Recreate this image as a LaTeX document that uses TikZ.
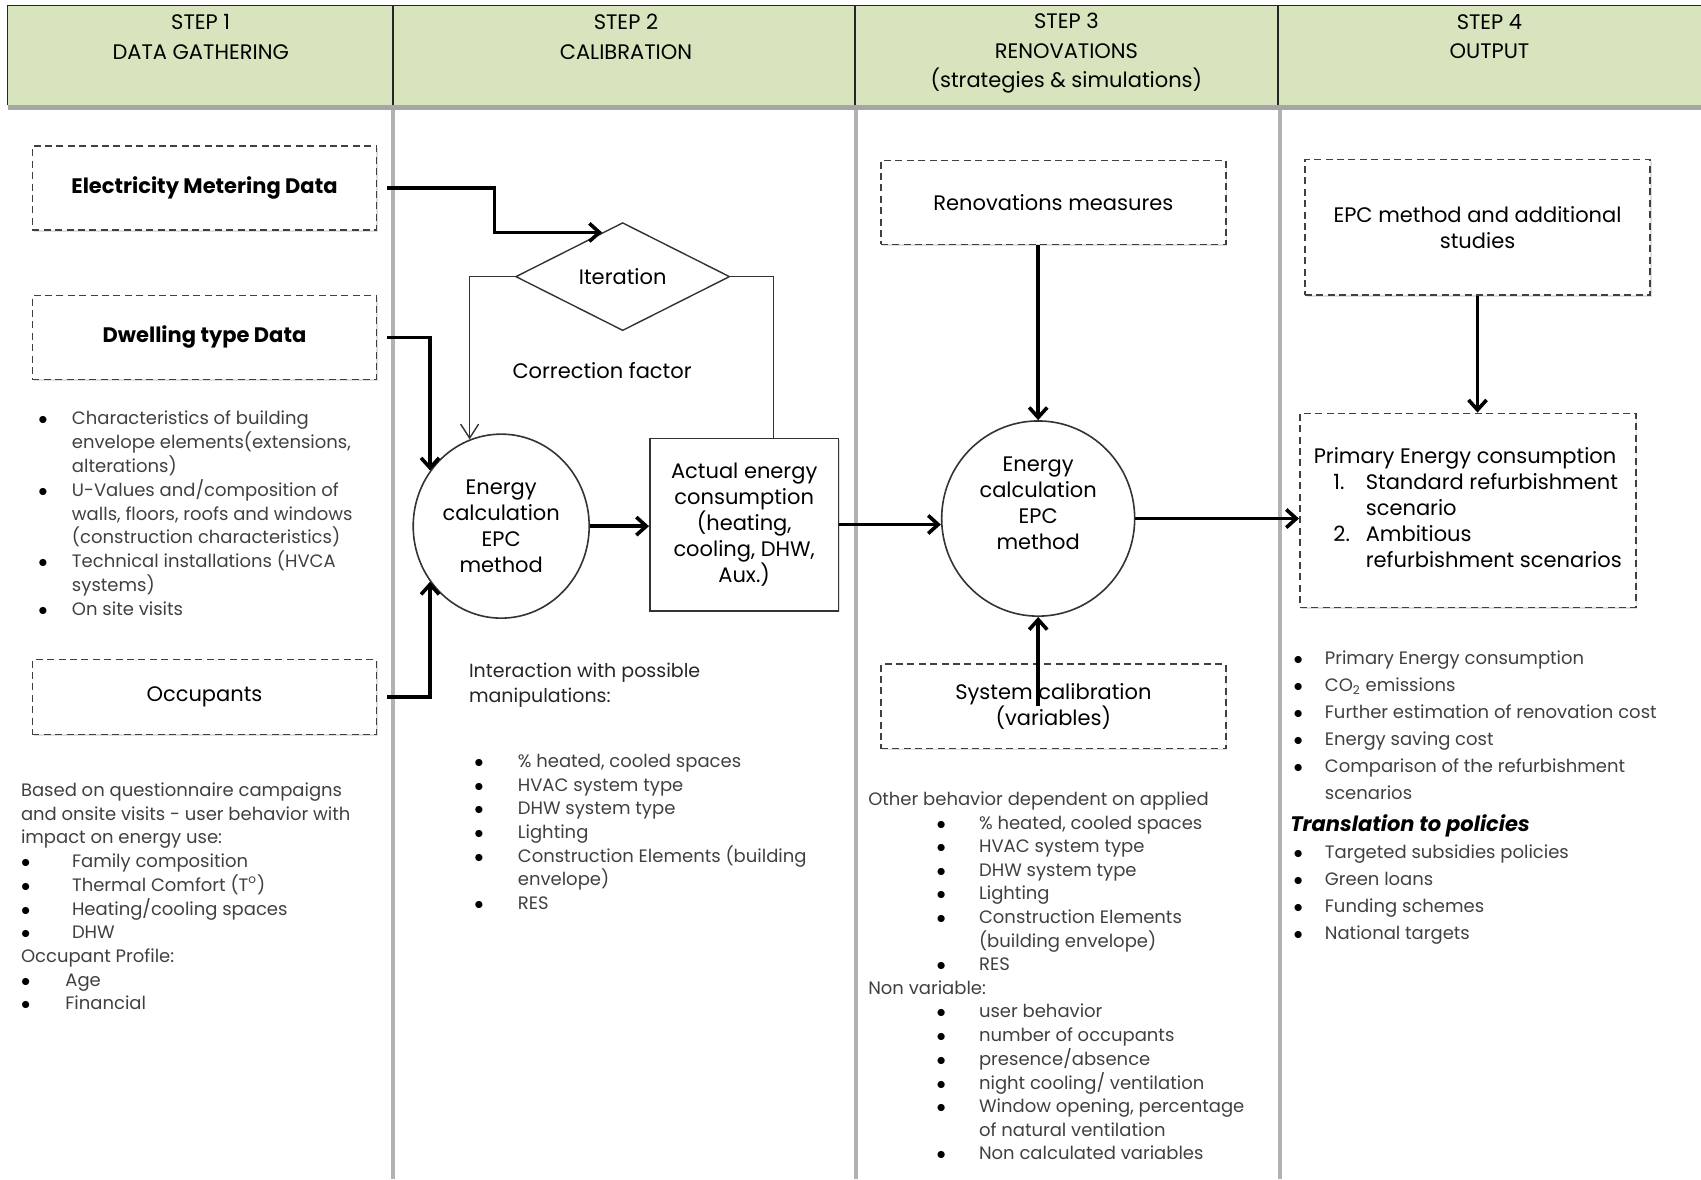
\documentclass[tikz,border=0pt]{standalone}
\usepackage{fontspec}
\setmainfont{Poppins}
\usetikzlibrary{shapes.geometric,arrows.meta,calc,shadows}
\definecolor{headgreen}{HTML}{D7E4BD}
\definecolor{txtgray}{HTML}{404040}
\newcommand{\bl}{\textcolor{black}{$\bullet$}}
\newcommand{\hd}[1]{\multicolumn{2}{@{}l@{}}{#1}}
\newcommand{\blist}[2]{\begin{tabular}{@{}p{#1}@{}l@{}}#2\end{tabular}}

\begin{document}
\begin{tikzpicture}[x=0.5424pt,y=-0.5424pt,
	dbox/.style={draw=black!75,dash pattern=on 3.5pt off 2.2pt,line width=0.8pt,fill=white,
		drop shadow={shadow xshift=0.8pt,shadow yshift=-0.8pt,opacity=0.25},
		align=center,inner sep=2pt,font=\fontsize{10.5}{13}\selectfont},
	solidbox/.style={draw=black!80,line width=0.8pt,fill=white,align=center,inner sep=0pt,
		font=\fontsize{10.5}{13}\selectfont},
	headtxt/.style={align=center,font=\fontsize{10.5}{14.6}\selectfont},
	flow/.style={line width=1.8pt,-{Straight Barb[length=5pt,width=9pt]}},
	loopline/.style={line width=0.7pt,black!80},
	body/.style={text=txtgray,inner sep=0pt,anchor=north west,font=\fontsize{9}{11.77}\selectfont}]

			\useasboundingbox (0,0) rectangle (1568,1087);

			\fill[headgreen] (7,5) rectangle (1568,97);
			\draw[gray!70,line width=2.5pt] (7,99) -- (1568,99);
			\draw[black!85,line width=0.8pt] (7,97) -- (7,5) -- (1568,5);
			\foreach \x in {362,788,1178}
				\draw[black!85,line width=0.8pt] (\x,5) -- (\x,97);
			\foreach \x in {362,789,1180}
				\draw[gray!60,line width=2pt] (\x,101) -- (\x,1087);

			\node[headtxt] (step1) at (185,34) {STEP 1\\DATA GATHERING};
			\node[headtxt] (step2) at (577,34) {STEP 2\\CALIBRATION};
			\node[headtxt] (step3) at (983,49) {STEP 3\\RENOVATIONS\\(strategies \& simulations)};
			\node[headtxt] (step4) at (1373,34) {STEP 4\\OUTPUT};

			% step 1
			\node[dbox,minimum width=172pt,minimum height=42pt,font=\fontsize{10.5}{13}\selectfont\bfseries] (elec) at (188.5,173.5) {Electricity Metering Data};
			\node[dbox,minimum width=172pt,minimum height=42pt,font=\fontsize{10.5}{13}\selectfont\bfseries] (dwell) at (188.5,311) {Dwelling type Data};
			\node[dbox,minimum width=172pt,minimum height=37.4pt] (occ) at (188.5,642.5) {Occupants};

			\node[body] (dwlist) at (35,376) {\blist{16.8pt}{
				\bl & Characteristics of building\\
				& envelope elements(extensions,\\
				& alterations)\\
				\bl & U-Values and/composition of\\
				& walls, floors, roofs and windows\\
				& (construction characteristics)\\
				\bl & Technical installations (HVCA\\
				& systems)\\
				\bl & On site visits}};

			\node[body] (occlist) at (19,719) {\blist{25.5pt}{
				\hd{Based on questionnaire campaigns}\\
				\hd{and onsite visits - user behavior with}\\
				\hd{impact on energy use:}\\
				\bl & Family composition\\
				\bl & Thermal Comfort (T\textsuperscript{o})\\
				\bl & Heating/cooling spaces\\
				\bl & DHW\\
				\hd{Occupant Profile:}\\
				\bl & \hspace{-3.3pt}Age\\
				\bl & \hspace{-3.3pt}Financial}};

			% step 2
			\node[draw=black!80,line width=0.7pt,diamond,aspect=2,minimum width=107pt,minimum height=54pt,inner sep=0pt,font=\fontsize{10.5}{13}\selectfont] (iter) at (574,255) {Iteration};
			\node[font=\fontsize{10.5}{13}\selectfont] (corr) at (555,342) {Correction factor};
			\node[solidbox,ellipse,minimum width=88pt,minimum height=92pt] (ecalc) at (462,485) {Energy\\calculation\\EPC\\method};
			\node[solidbox,minimum width=94.4pt,minimum height=86.2pt,
				drop shadow={shadow xshift=0.8pt,shadow yshift=-0.8pt,opacity=0.25}] (act) at (686,483.5) {Actual energy\\consumption\\(heating,\\cooling, DHW,\\Aux.)};

			\node[body,text=black!85,align=left,font=\fontsize{9.5}{12.5}\selectfont] (inter) at (432,611) {Interaction with possible\\manipulations:};
			\node[body] (manlist) at (437,692) {\blist{21.7pt}{
				\bl & \% heated, cooled spaces\\
				\bl & HVAC system type\\
				\bl & DHW system type\\
				\bl & Lighting\\
				\bl & Construction Elements (building\\
				& envelope)\\
				\bl & RES}};

			\draw[flow,shorten <=5pt] (elec.east) -- ++(108,0) |- (iter.115);
			\draw[flow,shorten <=5pt] (dwell.east) -| (ecalc.142);
			\draw[flow,shorten <=5pt] (occ.east) -| (ecalc.218);
			\draw[loopline,-{Straight Barb[length=7pt,width=9pt]}] (iter.west) -| (ecalc.110);
			\draw[loopline] (iter.east) -| ($(act.north)+(27,0)$);
			\draw[flow] (ecalc.east) -- (ecalc.east -| act.west);

			% step 3
			\node[dbox,minimum width=172.5pt,minimum height=42pt] (renov) at (971,186.5) {Renovations measures};
			\node[solidbox,ellipse,minimum width=96.5pt,minimum height=97.6pt] (rcalc) at (957,478) {\raisebox{6.5pt}[\height][\depth]{\begin{tabular}{@{}c@{}}Energy\\calculation\\EPC\\method\end{tabular}}};
			\node[dbox,minimum width=172.5pt,minimum height=42.3pt] (syscal) at (971,651) {System calibration\\(variables)};

			\node[body] (behlist) at (800,727) {\begin{tabular}{@{}p{34.2pt}@{}p{21.2pt}@{}l@{}}
				\multicolumn{3}{@{}l@{}}{Other behavior dependent on applied}\\
				& \bl & \% heated, cooled spaces\\
				& \bl & HVAC system type\\
				& \bl & DHW system type\\
				& \bl & Lighting\\
				& \bl & Construction Elements\\
				& & (building envelope)\\
				& \bl & RES\\
				\multicolumn{3}{@{}l@{}}{Non variable:}\\
				& \bl & user behavior\\
				& \bl & number of occupants\\
				& \bl & presence/absence\\
				& \bl & night cooling/ ventilation\\
				& \bl & Window opening, percentage\\
				& & of natural ventilation\\
				& \bl & Non calculated variables
				\end{tabular}};

			\draw[flow] (act.east) -- (act.east -| rcalc.west);
			\draw[flow] (renov.south -| rcalc.north) -- (rcalc.north);
			\draw[flow] (syscal.center -| rcalc.south) -- (rcalc.south);

			% step 4
			\node[dbox,minimum width=172.5pt,minimum height=67.8pt] (epc) at (1362,209.5) {EPC method and additional\\studies};
			\node[dbox,minimum width=168pt,minimum height=97pt,align=left] (prim) at (1353,470.5) {\begin{tabular}{@{}p{26pt}@{}l@{}}
				\hd{Primary Energy consumption}\\
				\hspace{9.8pt}1. & Standard refurbishment\\
				& scenario\\
				\hspace{9.8pt}2. & Ambitious\\
				& refurbishment scenarios
				\end{tabular}};

			\node[body,font=\fontsize{9}{13.56}\selectfont] (outlist) at (1192,594.5) {\blist{15.7pt}{
				\bl & Primary Energy consumption\\
				\bl & CO\textsubscript{2} emissions\\
				\bl & Further estimation of renovation cost\\
				\bl & Energy saving cost\\
				\bl & Comparison of the refurbishment\\
				& scenarios\\[2.2pt]
				\hd{\hspace{-1.6pt}\textcolor{black}{\fontsize{10.5}{13.56}\selectfont\bfseries\itshape Translation to policies}}\\
				\bl & Targeted subsidies policies\\
				\bl & Green loans\\
				\bl & Funding schemes\\
				\bl & National targets}};

			\draw[flow] (rcalc.east) -- (rcalc.east -| prim.west);
			\draw[flow] (epc.south) -- (epc.south |- prim.north);
\end{tikzpicture}
\end{document}
